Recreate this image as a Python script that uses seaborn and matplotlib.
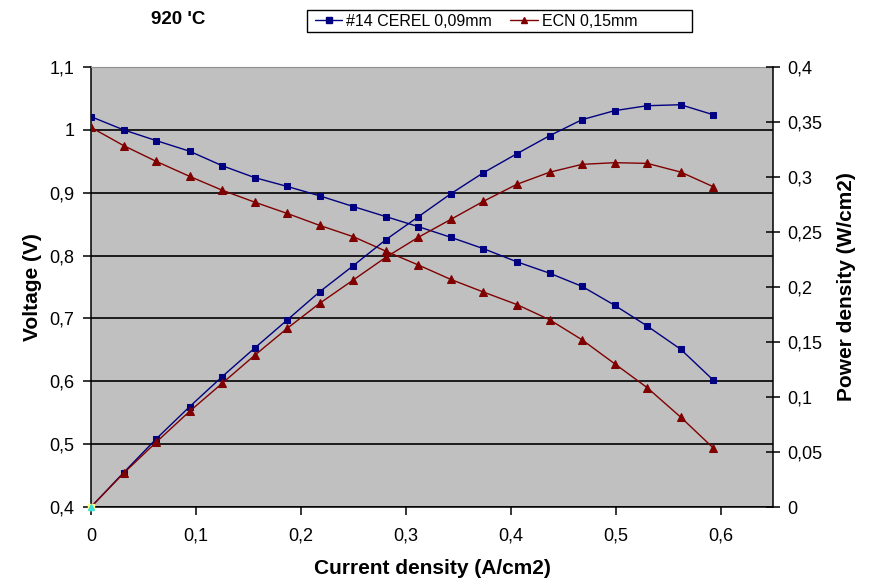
import matplotlib
matplotlib.use("Agg")
import matplotlib.pyplot as plt
from matplotlib.lines import Line2D
from matplotlib.patches import Rectangle
from matplotlib.ticker import FixedLocator, FixedFormatter
import seaborn as sns
import pandas as pd

# ---------------- data ----------------
current = [0.0, 0.031, 0.062, 0.094, 0.125, 0.156, 0.187, 0.218, 0.250, 0.281,
           0.312, 0.343, 0.374, 0.406, 0.437, 0.468, 0.499, 0.530, 0.562, 0.593]

cerel_voltage = [1.021, 1.000, 0.983, 0.966, 0.943, 0.924, 0.910, 0.895, 0.878, 0.862,
                 0.846, 0.829, 0.811, 0.790, 0.772, 0.751, 0.721, 0.688, 0.651, 0.602]
cerel_power = [0.0, 0.0312, 0.0618, 0.0912, 0.1185, 0.1445, 0.1700, 0.1957, 0.2194, 0.2430,
               0.2639, 0.2848, 0.3039, 0.3212, 0.3375, 0.3521, 0.3603, 0.3648, 0.3657, 0.3566]

ecn_voltage = [1.004, 0.975, 0.950, 0.926, 0.904, 0.885, 0.867, 0.848, 0.830, 0.807,
               0.785, 0.762, 0.742, 0.722, 0.698, 0.666, 0.628, 0.590, 0.543, 0.494]
ecn_power = [0.0, 0.0306, 0.0588, 0.0870, 0.1124, 0.1379, 0.1624, 0.1852, 0.2064, 0.2270,
             0.2452, 0.2615, 0.2779, 0.2934, 0.3043, 0.3115, 0.3130, 0.3124, 0.3045, 0.2912]

series_names = ["#14 CEREL 0,09mm", "ECN 0,15mm"]
series_colors = ["#000080", "#800000"]

voltage_ticks = [0.4, 0.5, 0.6, 0.7, 0.8, 0.9, 1.0, 1.1]
voltage_labels = ["0,4", "0,5", "0,6", "0,7", "0,8", "0,9", "1", "1,1"]
power_ticks = [0.0, 0.05, 0.10, 0.15, 0.20, 0.25, 0.30, 0.35, 0.40]
power_labels = ["0", "0,05", "0,1", "0,15", "0,2", "0,25", "0,3", "0,35", "0,4"]
current_ticks = [0.0, 0.1, 0.2, 0.3, 0.4, 0.5, 0.6]
current_labels = ["0", "0,1", "0,2", "0,3", "0,4", "0,5", "0,6"]

title_text = "920 'C"
xlabel_text = "Current density (A/cm2)"
ylabel_text = "Voltage (V)"
y2label_text = "Power density (W/cm2)"

# ---------------- figure ----------------
sns.set_style("white")
plt.rcParams["font.family"] = ["Liberation Sans", "DejaVu Sans"]
plt.rcParams["text.color"] = "black"
plt.rcParams["axes.labelcolor"] = "black"
plt.rcParams["xtick.color"] = "black"
plt.rcParams["ytick.color"] = "black"

W, H = 894, 588
fig = plt.figure(figsize=(W / 100, H / 100), dpi=100)
fig.patch.set_facecolor("white")
ax = fig.add_axes([91 / W, 1 - 507 / H, (773 - 91) / W, (507 - 67) / H])
ax.set_facecolor("#C0C0C0")
ax2 = ax.twinx()

df = pd.DataFrame({
    "current": current,
    "cerel_v": cerel_voltage, "cerel_p": cerel_power,
    "ecn_v": ecn_voltage, "ecn_p": ecn_power,
})

line_kw = dict(linewidth=1.0, errorbar=None, sort=False, legend=False)
sns.lineplot(data=df, x="current", y="cerel_v", ax=ax, color=series_colors[0],
             marker="s", markersize=5, markeredgecolor=series_colors[0], zorder=3, **line_kw)
sns.lineplot(data=df, x="current", y="ecn_v", ax=ax, color=series_colors[1],
             marker="^", markersize=6, markeredgecolor=series_colors[1], zorder=3, **line_kw)
sns.lineplot(data=df, x="current", y="cerel_p", ax=ax2, color=series_colors[0],
             marker="s", markersize=5, markeredgecolor=series_colors[0], zorder=3, **line_kw)
sns.lineplot(data=df, x="current", y="ecn_p", ax=ax2, color=series_colors[1],
             marker="^", markersize=6, markeredgecolor=series_colors[1], zorder=3, **line_kw)
# small coloured markers at the origin point (as in the reference)
ax2.plot([current[0]], [cerel_power[0]], linestyle="none", marker="s", markersize=4,
         color="#FFFF80", markeredgecolor="#FFFF80", zorder=4, clip_on=False)
ax2.plot([current[0]], [ecn_power[0]], linestyle="none", marker="^", markersize=4,
         color="#40E0E0", markeredgecolor="#40E0E0", zorder=5, clip_on=False)

ax.set_xlim(0, 0.65)
ax.set_ylim(0.4, 1.1)
ax2.set_ylim(0.0, 0.4)

ax.xaxis.set_major_locator(FixedLocator(current_ticks))
ax.xaxis.set_major_formatter(FixedFormatter(current_labels))
ax.yaxis.set_major_locator(FixedLocator(voltage_ticks))
ax.yaxis.set_major_formatter(FixedFormatter(voltage_labels))
ax2.yaxis.set_major_locator(FixedLocator(power_ticks))
ax2.yaxis.set_major_formatter(FixedFormatter(power_labels))

ax.set_axisbelow(True)
ax.yaxis.grid(True, color="black", linewidth=1.2)
ax.xaxis.grid(False)

for s in ["left", "bottom"]:
    ax.spines[s].set_visible(True)
    ax.spines[s].set_color("black")
    ax.spines[s].set_linewidth(1.1)
ax.spines["top"].set_color("#909090")
ax.spines["top"].set_linewidth(0.8)
ax.spines["right"].set_visible(False)
for s in ["left", "top", "bottom"]:
    ax2.spines[s].set_visible(False)
ax2.spines["right"].set_visible(True)
ax2.spines["right"].set_color("black")
ax2.spines["right"].set_linewidth(1.1)

ax.tick_params(axis="y", direction="out", length=6, width=1.1, labelsize=13, pad=6,
               left=True, colors="black")
ax.tick_params(axis="x", direction="out", length=6, width=1.1, labelsize=13, pad=9,
               bottom=True, colors="black")
ax2.tick_params(axis="y", direction="inout", length=10, width=1.1, labelsize=13, pad=5,
                right=True, colors="black")

ax.set_xlabel(xlabel_text, fontsize=15, fontweight="bold", color="black")
ax.set_ylabel(ylabel_text, fontsize=15, fontweight="bold", color="black")
ax2.set_ylabel(y2label_text, fontsize=15, fontweight="bold", rotation=90, color="black")
ax.xaxis.set_label_coords(0.5, (507 - 559) / 440)
ax.yaxis.set_label_coords((42 - 91) / 682, 0.5)
ax2.yaxis.set_label_coords((837 - 91) / 682, 0.5)

fig.text(178 / W, 1 - 20 / H, title_text, fontsize=13.5, fontweight="bold",
         ha="center", va="center", color="black")

# legend: Excel-style box, wider than its content
fig.add_artist(Rectangle((307 / W, 1 - 32 / H), (692 - 307) / W, 22 / H,
                         transform=fig.transFigure, facecolor="white",
                         edgecolor="black", linewidth=1.0, zorder=5))
handles = [
    Line2D([0], [0], color=series_colors[0], marker="s", markersize=4, linewidth=1.0),
    Line2D([0], [0], color=series_colors[1], marker="^", markersize=5, linewidth=1.0),
]
leg = fig.legend(handles, series_names, loc="center left", ncol=2,
                 bbox_to_anchor=(312 / W, 1 - 21 / H), fontsize=11.5,
                 frameon=False, handlelength=1.7, handletextpad=0.25,
                 columnspacing=1.15, borderpad=0.2, borderaxespad=0)
leg.set_zorder(6)

fig.savefig("out.png", dpi=100, facecolor="white")
